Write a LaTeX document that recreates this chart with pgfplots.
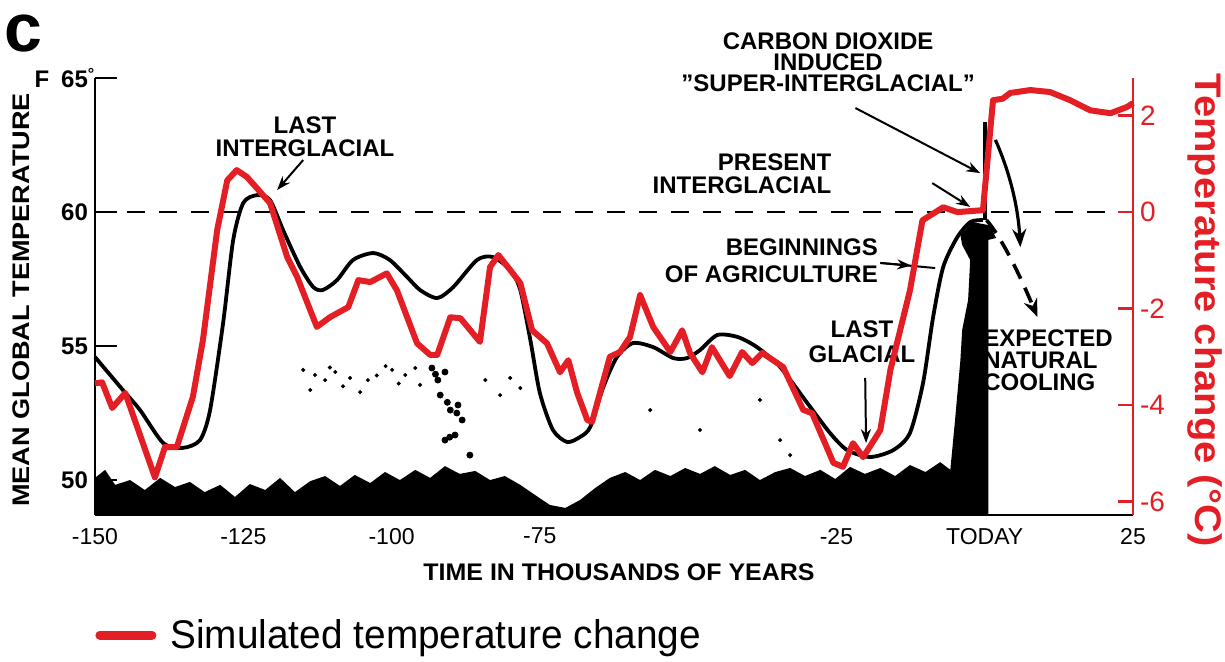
\documentclass[border=0pt]{standalone}
\usepackage{fontspec}
\setmainfont{Liberation Sans}
\usepackage{pgfplots}
\pgfplotsset{compat=1.18}
\usetikzlibrary{arrows.meta}
\definecolor{simred}{RGB}{228,30,37}

\begin{document}
\begin{tikzpicture}
\useasboundingbox (-47.5pt,-73pt) rectangle (565pt,257.5pt);
% ---------------- Fahrenheit (black) axis ----------------
\begin{axis}[
  at={(0,0)}, anchor=south west,
  scale only axis, width=519pt, height=218.5pt,
  xmin=-150, xmax=25, ymin=48.696, ymax=65,
  axis x line*=bottom, axis y line*=left,
  axis line style={line width=1.4pt, black},
  xtick={-150,-125,-100,-75,-25,0,25},
  xticklabels={-150,-125,-100,-75,-25,TODAY,25},
  x tick style={draw=none},
  xticklabel style={font=\fontsize{11.5}{12}\selectfont, yshift=-3pt},
  ytick={50,55,60,65},
  yticklabels={50,55,60,{F\hspace{6pt}65\rlap{\textsuperscript{°}}}},
  y tick style={line width=1.2pt, black},
  major tick length=11pt,
  tick align=inside,
  yticklabel style={font=\bfseries\fontsize{12}{12}\selectfont},
  clip=false,
]
% scanned ice-volume band and peak at present
\addplot[fill=black, draw=none] coordinates {
(-150,48.696) (-150,50.08) (-148.3,50.38) (-146.6,49.82) (-144.1,50.00) (-141.6,49.63)
(-139.0,50.08) (-136.5,49.74) (-134.0,49.93) (-131.5,49.55) (-128.9,49.82) (-126.4,49.37)
(-123.9,49.85) (-121.3,49.63) (-118.8,50.08) (-116.3,49.55) (-113.7,49.96) (-111.2,50.15)
(-108.7,49.78) (-106.2,50.19) (-103.6,49.89) (-101.1,50.30) (-98.6,50.00) (-96.0,50.38)
(-93.5,50.08) (-91.0,50.52) (-88.5,50.23) (-85.9,50.34) (-83.4,50.00) (-80.9,50.15)
(-78.3,49.82) (-75.8,49.44) (-73.3,49.07) (-70.7,48.96) (-68.2,49.26) (-65.7,49.70)
(-63.2,50.08) (-60.6,50.30) (-58.1,50.00) (-55.6,50.38) (-53.0,50.15) (-50.5,50.45)
(-48.0,50.23) (-45.5,50.52) (-42.9,50.19) (-40.4,50.38) (-37.9,50.00) (-35.3,50.30)
(-32.8,50.45) (-30.3,50.15) (-27.7,50.38) (-25.2,50.04) (-22.7,50.49) (-20.2,50.23)
(-17.6,50.45) (-15.1,50.15) (-12.6,50.56) (-10.0,50.30) (-7.5,50.67) (-5.8,50.38)
(-5.0,52.24) (-4.1,54.48) (-3.8,55.6) (-2.8,56.72) (-2.45,58.21) (-3.8,58.77)
(-4.1,59.14) (-2.1,59.63) (0.9,59.5) (1.9,59.03) (0.6,58.96) (0.6,48.696)
} -- cycle;
% speckles
\addplot[only marks, mark=*, mark size=0.8pt, black] coordinates {
(-114.9,54.11) (-112.9,53.92) (-111.2,53.73) (-109.5,54.03) (-113.7,53.36)
(-107.0,53.81) (-105.3,53.28) (-104.0,53.73) (-99.9,54.11) (-97.7,53.92)
(-96.0,54.18) (-95.2,53.55) (-84.2,53.73) (-81.7,53.17) (-80.0,53.81)
(-78.3,53.43) (-56.4,52.61) (-48.0,51.87) (-37.9,52.99) (-34.5,51.49) (-32.8,50.93)
(-110.4,54.2) (-102.5,53.9) (-98.8,53.6) (-108.2,53.5) (-101.0,54.25)
};
\addplot[only marks, mark=*, mark size=1.5pt, black] coordinates {
(-93.2,54.18) (-92.2,53.73) (-91.0,54.03) (-91.8,53.17) (-90.1,52.61)
(-88.8,52.80) (-88.1,52.24) (-89.3,51.68) (-91.0,51.49) (-86.8,50.93)
(-92.6,53.95) (-90.6,52.9) (-89.0,52.5) (-90.2,51.6)
};
% 60 F reference
\addplot[black, line width=1pt, dash pattern=on 9pt off 7pt] coordinates {(-150,60) (25,60)};
% reconstructed temperature
\addplot[black, line width=1.9pt, smooth, tension=0.45] coordinates {
(-150,54.59) (-145.3,53.36) (-142.4,52.61) (-138.5,51.38) (-135.2,51.20) (-132.3,51.49)
(-130.6,52.61) (-128.4,55.86) (-126.7,58.96) (-125.0,60.34) (-122.7,60.63) (-120.5,60.45)
(-118.3,59.33) (-115.4,57.95) (-113.2,57.20) (-111.6,57.09) (-109.2,57.46) (-106.5,58.21)
(-103.1,58.47) (-100.3,58.21) (-97.4,57.58) (-95.2,57.09) (-92.3,56.79) (-89.6,57.20)
(-85.6,58.21) (-82.9,58.32) (-80.0,57.84) (-78.3,57.09) (-76.6,55.22) (-75.0,53.25)
(-72.8,51.87) (-70.4,51.42) (-68.2,51.61) (-66.5,51.98) (-64.3,53.47) (-62.0,54.59)
(-59.3,55.11) (-55.9,54.96) (-52.5,54.55) (-50.2,54.55) (-48.0,54.85) (-45.1,55.41)
(-41.7,55.34) (-38.4,54.96) (-34.5,54.22) (-29.9,52.87) (-26.1,51.76) (-23.2,51.12)
(-19.3,50.86) (-15.4,51.12) (-12.6,51.76) (-10.4,53.62) (-8.7,56.08) (-7.0,57.95)
(-4.6,59.07) (-2.4,59.63) (-0.3,59.70)
};
% projections after today
\draw[line width=2pt] (axis cs:0.1,59.7) -- (axis cs:0.1,63.36);
\draw[line width=1.6pt, -{Stealth[length=9pt,width=7pt]}] (axis cs:1.8,62.69) .. controls (axis cs:4,61.6) and (axis cs:5.6,60.3) .. (axis cs:6.0,58.69);
\draw[line width=1.8pt, dash pattern=on 8pt off 5pt, -{Stealth[length=9pt,width=7pt]}] (axis cs:0.3,59.7) .. controls (axis cs:3,59) and (axis cs:6,57.6) .. (axis cs:8.9,56.08);
% annotations
\tikzset{ann/.style={font=\bfseries\fontsize{12}{11.5}\selectfont, inner sep=0pt}}
\node[ann, align=center] at (axis cs:-114.6,62.80) {LAST\\INTERGLACIAL};
\draw[line width=1pt, -{Stealth[length=7pt,width=5pt]}] (axis cs:-114.9,61.94) -- (axis cs:-119.3,60.82);
\node[ann, align=center, font=\bfseries\fontsize{12}{10.5}\selectfont] at (axis cs:-26.4,65.6) {CARBON DIOXIDE\\INDUCED\\"SUPER-INTERGLACIAL"};
\draw[line width=1pt, -{Stealth[length=7pt,width=5pt]}] (axis cs:-21.8,63.88) -- (axis cs:-0.76,61.45);
\node[ann, align=right, anchor=east] at (axis cs:-25.8,61.42) {PRESENT\\INTERGLACIAL};
\draw[line width=1pt, -{Stealth[length=7pt,width=5pt]}] (axis cs:-8.85,61.08) -- (axis cs:-2.45,60.19);
\node[ann, align=right, anchor=east, font=\bfseries\fontsize{12}{13.5}\selectfont] at (axis cs:-17.96,58.17) {BEGINNINGS\\OF AGRICULTURE};
\draw[line width=1pt] (axis cs:-17.6,58.10) -- (axis cs:-8.35,57.91);
\draw[line width=1pt, -{Stealth[length=7pt,width=5pt]}] (axis cs:-17.6,58.10) -- (axis cs:-12.4,58.0);
\node[ann, align=center, font=\bfseries\fontsize{12}{12.5}\selectfont] at (axis cs:-20.7,55.15) {LAST\\GLACIAL};
\draw[line width=1pt, -{Stealth[length=7pt,width=5pt]}] (axis cs:-20.15,53.81) -- (axis cs:-20.0,51.38);
\node[ann, align=left, anchor=west, font=\bfseries\fontsize{12}{11}\selectfont] at (axis cs:-0.3,54.48) {EXPECTED\\NATURAL\\COOLING};
% axis titles and panel letter
\node[rotate=90, font=\bfseries\fontsize{12}{12}\selectfont] at (axis description cs:-0.0713,0.492) {\scalebox{1.13}[1]{MEAN GLOBAL TEMPERATURE}};
\node[font=\bfseries\fontsize{12}{12}\selectfont] at (axis description cs:0.5048,-0.1304) {\scalebox{1.04}[1]{TIME IN THOUSANDS OF YEARS}};
\node[font=\bfseries\fontsize{34}{34}\selectfont, inner sep=0pt, anchor=base] at (axis description cs:-0.0694,1.0597) {c};
\end{axis}
% ---------------- Celsius (red) axis ----------------
\begin{axis}[
  at={(0,0)}, anchor=south west,
  scale only axis, width=519pt, height=218.5pt,
  xmin=-150, xmax=25, ymin=-6.28, ymax=2.78,
  axis x line=none, axis y line*=right,
  xtick=\empty,
  axis line style={simred, line width=1.3pt},
  ytick={-6,-4,-2,0,2}, yticklabels={-6,-4,-2,0,2},
  y tick style={simred, line width=1.3pt},
  major tick length=7.5pt, tick align=inside,
  yticklabel style={text=simred, font=\fontsize{14}{14}\selectfont},
  clip=false,
  legend style={at={(axis description cs:0,-0.2746)}, anchor=west, draw=none, fill=none,
    font=\fontsize{20}{20}\selectfont, inner sep=0pt},
  legend image code/.code={\draw[simred, line width=4.5pt, line cap=round] (0pt,0pt) -- (26pt,0pt);},
]
\addplot[simred, line width=3pt, line join=round] coordinates {
(-150,-3.55) (-148.8,-3.53) (-147.1,-4.06) (-144.9,-3.75) (-139.9,-5.50) (-138.2,-4.87)
(-136.2,-4.87) (-133.5,-3.83) (-131.8,-2.65) (-129.4,-0.37) (-127.7,0.66) (-126.1,0.87)
(-124.4,0.73) (-120.5,0.19) (-117.6,-0.93) (-115.9,-1.35) (-112.6,-2.38) (-110.4,-2.18)
(-107.3,-1.97) (-105.6,-1.41) (-103.6,-1.45) (-100.8,-1.27) (-99.1,-1.62) (-95.7,-2.72)
(-93.5,-2.96) (-92.3,-2.96) (-90.1,-2.18) (-88.4,-2.20) (-85.1,-2.69) (-83.4,-1.14)
(-82.0,-0.89) (-80.0,-1.20) (-78.3,-1.47) (-76.3,-2.45) (-73.8,-2.72) (-71.6,-3.32)
(-70.2,-3.07) (-68.7,-3.75) (-67.0,-4.31) (-66.2,-4.35) (-63.2,-3.00) (-61.5,-2.90)
(-59.8,-2.59) (-58.1,-1.72) (-55.9,-2.38) (-53.0,-2.90) (-51.0,-2.45) (-49.7,-2.92)
(-47.6,-3.32) (-46.0,-2.80) (-43.0,-3.40) (-40.9,-2.90) (-39.2,-3.13) (-37.5,-2.92)
(-34.0,-3.21) (-30.6,-4.10) (-29.1,-4.17) (-25.5,-5.20) (-23.9,-5.28) (-22.2,-4.79)
(-20.5,-5.08) (-17.6,-4.52) (-15.9,-3.27) (-12.6,-1.62) (-10.5,-0.17) (-7.0,0.10)
(-4.6,0.00) (-0.3,0.04) (1.4,2.32) (3.0,2.35) (4.3,2.47) (7.7,2.53) (11.0,2.49)
(14.4,2.32) (17.8,2.11) (21.2,2.05) (24.0,2.18) (25.0,2.26)
};
\addlegendentry{\hspace{5pt}\scalebox{0.97}[1]{Simulated temperature change}}
\node[rotate=-90, text=simred, inner sep=0pt, font=\bfseries\fontsize{18.5}{18.5}\selectfont] at (axis description cs:1.0694,0.469) {\scalebox{1.08}[1]{Temperature change (°C)}};
\end{axis}
\end{tikzpicture}
\end{document}
